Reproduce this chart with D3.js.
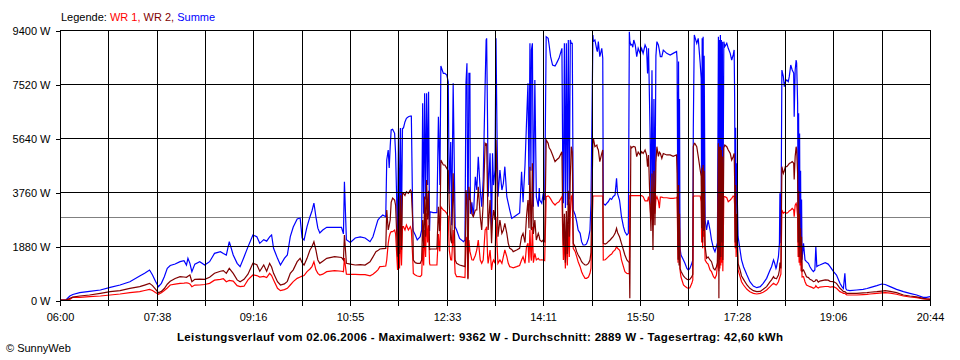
<!DOCTYPE html>
<html><head><meta charset="utf-8">
<script src="https://cdn.jsdelivr.net/npm/d3@7"></script>
<style>
html,body{margin:0;padding:0;background:#fff;}
svg{display:block;background:#fff;}
text{font-family:"Liberation Sans",Arial,sans-serif;}
</style></head><body>
<svg id="chart" width="960" height="360"></svg>
<script>
// time in minutes after 06:00
const minutes = [
0,6,10,13,20,30,41,51,61,71,
81,86,91,94,97,100,103,106,109,112,
117,122,126,128.5,130,132,134,137,142,147,
152,157,163,166,169,172,176,180,183,187,
191,196,200,203,207,210,213,215,217,221,
224,228,231,234,237,241,244,246,248,251,
254,256,258,260,262,264,267,271,279,286,
288,289,291,295,300,305,310,315,318,321,
323,325,328,331,332,333.5,334.5,335.5,336.5,338,
340,341,343,344,345,346,347,348,349,350.5,
352,354,356,357,358.5,359,361,363,366,367.5,
368.5,369.5,370.5,371.5,372.5,373.5,374.5,375.5,376,379,
383,384.5,385.5,386,387,389.5,391,393,394.5,395.5,
397,398,399.5,401.5,403,406,410,411.5,412.5,413.5,
414.5,415.5,416.5,417,418.5,420,422,423.5,425,427,
428.5,430,432,433,433.5,434.5,435,437,438.5,439.5,
440.5,442,443,444,445,447,449,450.5,452,454,
455.5,457,459,460.5,464,467,469,470.5,472.5,474,
475.5,476.5,477.5,478.5,479,480,481,482.5,484,486,
487,487.5,489.5,491,492.5,494,496,497,498.5,500.5,
503,504.5,507,510,511,511.5,512.5,513.5,514.5,515.5,
516.5,517.5,518.5,519.5,520.5,521.5,523.5,525,526.5,528.5,
530,531.5,533.5,535,537,538.5,539.5,541.5,542,543.5,
545.5,546,547,548.5,550.5,551.5,552,554,555.5,557,
559,560.5,562,564,565.5,566.5,568.5,569,570.5,572.5,
574,576,577.5,578.5,579,580,581,582,583,584.5,
586,587.5,589.5,591,592.5,594.5,596,597,598,599.5,
600.5,601.5,602.5,603.5,604.5,605.5,606.5,608,609,610,
611.5,613,616.5,620,623,626.5,627,628,628.5,629,
629.5,630,631,633.5,635,637,638.5,640,642,643,
643.5,644.5,645,647,648.5,650.5,651.5,652,652.5,653,
653.5,654,654.5,655.5,657,658.5,660.5,662,664,665.5,
667,668,669,669.5,670,670.5,671,671.5,672,672.5,
673,673.5,674.5,675.5,677.5,679,681,682.5,684,685,
685.5,686,686.5,687,687.5,689,691,692.5,694.5,698,
701,704.5,708,711.5,714.5,718,721.5,723,725,726,
727.5,728,730,731,731.5,732.5,733.5,735,736,737,
738.5,740,741,742.5,744,745.5,746,747,748,748.5,
749.5,750,750.5,751,751.5,752,752.5,753,753.5,754,
755.5,757,758.5,760.5,762,764,765.5,767,768,769,
770.5,772,777.5,780.5,782.5,786,789,792.5,794.5,796,
797.5,798.5,799.5,802.5,809.5,816,820,823,830,835,
838.5,843.5,850,857,863.5,870.5,877,880.5,884
];
// WR 1 (W)
const wr1 = [
0,0,20,93,93,116,139,174,209,255,
290,330,371,330,260,197,250,330,420,522,
550,580,590,600,590,560,464,520,522,540,
580,690,720,740,637,680,660,500,464,480,
700,870,850,800,820,780,928,850,700,406,
324,360,406,522,640,754,800,830,850,986,
1080,1160,1334,1050,928,870,900,986,1021,1000,
986,1462,900,893,893,880,880,840,900,986,
1050,1160,1170,1183,1393,1973,2200,2321,2378,2378,
2437,2300,1044,2500,1100,2550,1200,2552,2552,2437,
2611,2437,2552,2437,1393,928,870,835,812,870,
1900,1200,2437,1500,3017,2000,2600,1276,1218,1218,
1218,2300,1741,1700,3249,3133,3100,3017,2900,1741,
1400,1393,2437,928,812,812,790,780,2089,2200,
754,2089,1700,1625,1400,1393,1550,1741,2089,1393,
1276,1393,2437,2500,2552,1500,1276,1741,1044,1300,
1393,1276,2900,1973,1276,1393,1276,1508,1741,1508,
1276,1160,1140,1120,1160,1200,1393,1508,1276,1856,
1973,1300,2437,1500,1370,2552,1300,1625,1393,1450,
1400,1393,1400,1393,1369,3597,3620,3600,3520,3400,
3307,3365,3420,3597,2000,1393,2200,1100,2400,1200,
2611,1500,3000,3597,3655,1799,1683,1508,1334,1160,
986,870,754,754,800,928,1100,3620,3620,3620,
3620,3620,3620,3620,3620,3620,1393,1400,1450,1500,
1566,1600,1683,1741,1856,1800,1741,1700,1393,1160,
986,928,920,920,3631,3631,3631,3631,3631,3631,
3631,3631,3631,3631,3600,3450,3450,3450,3600,3300,
2800,3400,2600,3450,3000,3500,3597,3450,3200,3580,
3580,3560,3560,3539,3539,3560,3580,1300,3000,1500,
2500,1044,800,522,480,429,406,429,580,700,
3597,3620,3620,3620,3620,3620,3423,2000,3200,1800,
3133,2200,3000,1393,1300,1250,1044,986,812,754,
870,1200,3597,1000,3500,1100,3400,1200,3597,1300,
3500,1000,3597,3597,3560,3423,3481,3539,3620,3597,
3300,1800,3000,1500,2500,1044,812,637,522,371,
290,232,209,232,267,348,464,520,580,560,
522,522,637,750,800,900,3133,3017,3050,3060,
3017,3060,3100,3133,3191,3133,2900,3300,3365,3307,
2900,1500,2600,1300,2300,1200,2000,1000,1600,800,
812,637,522,490,464,440,406,430,500,450,
420,450,470,470,450,464,406,290,260,232,
230,200,174,174,174,190,197,209,232,250,
255,240,200,139,104,80,35,30,30
];
// WR 2 (W)
const wr2 = [
0,0,58,100,139,174,232,290,324,406,
464,520,580,500,380,255,300,400,550,650,
750,812,800,790,830,870,637,720,730,720,
789,930,1000,1021,928,1102,928,700,637,720,
900,1276,1230,1000,1220,1000,1276,1150,928,637,
522,560,650,928,1050,1334,1450,1300,1218,1450,
1741,1856,2030,1741,1393,1276,1350,1450,1508,1480,
1393,2263,1276,1250,1218,1230,1218,1330,1500,1683,
1720,1775,1790,1799,3133,2437,2600,2785,3400,3550,
3481,3300,1508,3600,1600,3650,1750,3700,3713,3640,
3771,3713,3829,3771,2660,1393,1300,1276,1276,1393,
2785,1800,3600,2200,4178,2800,3800,1741,1775,1775,
1775,3249,2400,2450,4874,4700,4700,4584,4500,3365,
2100,1973,4410,1393,1276,1218,1180,1160,3829,3500,
720,3944,3500,3481,3000,2900,3133,3133,3944,2900,
2437,3365,5454,5400,5454,3500,2437,3481,1973,2800,
3133,2785,5570,4410,2204,2785,2321,2437,2670,2320,
1973,1799,1760,1683,1740,1800,2204,2321,2000,2900,
3481,2500,4642,2500,2437,4758,2300,2785,2089,2321,
2200,2089,2030,2089,2030,5570,5454,5300,5222,5050,
4816,4874,4950,5163,2437,1900,3000,1300,3100,1600,
3800,2200,4292,5337,5163,1973,1856,1683,1566,1450,
1334,1276,1218,1218,1276,1393,1650,5570,5628,5340,
5396,5300,5222,4816,5106,5222,1973,1950,1973,2030,
2089,2150,2204,2321,2496,2350,2204,2150,1973,1741,
1566,1393,1334,1300,60,5337,5300,5337,5350,5320,
4990,5150,5050,5163,5100,5222,5050,4642,5050,3365,
2400,4400,1741,4500,2600,4800,5337,5000,5150,5106,
4932,5100,5050,5050,5000,5050,4410,1400,4000,1200,
3000,1102,1000,835,780,720,700,720,812,900,
5337,5454,5454,5337,5000,4526,4300,2500,4600,2000,
4700,2400,4500,1856,1450,1500,1393,1334,1102,1044,
1160,1300,5454,60,5337,1400,5337,1500,5222,2000,
5000,1393,5300,5396,5337,5222,5106,4874,4990,5106,
4178,2000,4000,1800,3000,1276,1044,835,720,522,
406,324,290,300,371,464,637,700,812,760,
750,740,870,1044,1300,1100,4642,4410,4500,4642,
4642,4700,4750,4780,4816,4758,4200,5000,5337,5222,
4400,2000,3800,1500,3000,1800,2500,1300,2200,1000,
1044,928,812,780,720,690,637,650,700,700,
620,660,700,690,650,637,580,406,350,290,
290,260,232,232,232,250,255,270,290,310,
324,300,255,174,139,110,58,40,25
];
// Summe (W)
const summe = [
0,0,140,190,255,300,348,440,522,637,
835,928,1044,870,650,464,580,812,1102,1200,
1253,1334,1369,1218,1450,1276,986,1250,1334,1218,
1334,1624,1682,1620,1566,2030,1566,1276,1160,1500,
1850,2263,2200,1973,2100,2050,2200,2263,1800,1450,
1218,1450,1567,2204,2541,2820,2855,2158,2089,2552,
2900,3100,3376,2900,2500,2332,2437,2530,2530,2530,
2300,4118,2100,2000,2158,2200,2158,2030,2204,2552,
2785,2866,2960,2900,4874,5222,4600,5337,5918,5941,
5802,5100,2204,5976,2300,5990,2600,5976,5990,6200,
6325,6380,6405,6405,2552,2400,2263,2089,2204,2437,
6847,3000,7195,3500,7195,4000,7253,2400,3074,3040,
3040,6380,5000,4000,8146,7891,7891,7832,7600,3700,
5500,2600,7543,2550,2437,2146,2030,2089,7543,8239,
1973,7890,7890,3000,3400,2900,4292,3829,4990,3829,
3249,4178,7543,9052,9110,6000,3597,5106,2437,5106,
4000,4526,9110,5918,3597,4526,3829,4062,4642,3597,
3365,3133,2843,2870,2960,3030,4468,3400,4700,6150,
7543,4000,8936,4500,8704,8936,3249,7659,3597,3249,
3900,3481,3365,3713,3481,9168,9110,8878,8471,8181,
8146,8239,8413,8762,3829,3365,8936,3200,8936,3300,
9052,3500,9052,8936,8936,3133,2960,2726,2437,2321,
2030,1915,1915,1950,2146,2437,3365,9226,9000,9052,
8700,8645,8994,8471,8762,8413,3365,3300,3365,3420,
3539,3500,3597,3655,4236,3700,3481,3350,2900,2552,
2378,2263,2320,9342,9000,8878,8900,8800,9052,8878,
8471,8762,8587,8762,8587,8878,8762,7890,8762,6000,
3300,8000,2700,7000,3400,8500,8994,8878,8700,8471,
8471,8700,8587,8530,8587,8650,8400,1741,8300,2500,
7000,1800,1566,1393,1276,1102,1044,1102,1276,1393,
6000,9226,9168,8936,9110,8239,7716,3000,9110,2500,
9168,3500,8500,2785,2437,2785,2437,2089,1799,1683,
1856,2000,9168,1800,9052,2000,9226,2200,9052,3500,
8994,2000,8994,8820,8936,8762,8587,8355,8530,8704,
7079,3000,6000,3000,4758,2204,1741,1393,1160,870,
637,487,429,464,580,754,1044,1160,1393,1300,
1102,1150,1508,1973,3713,1973,8007,7775,7427,7600,
7659,7600,7775,8180,8007,7900,6380,8007,8355,8250,
6847,3000,6500,2000,5800,1800,4500,1600,3500,1400,
1973,1393,1334,1276,1160,1044,986,1044,1856,1160,
1200,1218,1300,1250,1160,986,870,580,464,400,
928,400,348,324,348,371,400,429,499,557,
540,464,371,290,232,174,93,93,116
];

const yTicks = [0, 1880, 3760, 5640, 7520, 9400];
const xTickLabels = ["06:00","07:38","09:16","10:55","12:33","14:11","15:50","17:28","19:06","20:44"];
const totalMinutes = 884;   // 06:00 .. 20:44
const average = 2889;
const legendParts = [["Legende: ","#000000"],["WR 1, ","#ff0000"],["WR 2, ","#800000"],["Summe","#0000ff"]];
const title = "Leistungsverlauf vom 02.06.2006 - Maximalwert: 9362 W - Durchschnitt: 2889 W - Tagesertrag: 42,60 kWh";
const copyright = "\u00A9 SunnyWeb";

const svg = d3.select("#chart");
const x = d3.scaleLinear().domain([0, totalMinutes]).range([60, 930]);
const y = d3.scaleLinear().domain([0, 9400]).range([300, 30]);
const gridMinutes = d3.range(19).map(i => i * totalMinutes / 18);
const px = v => Math.round(v) + 0.5;

// average line
svg.append("line")
  .attr("x1", x(0)).attr("x2", x(totalMinutes))
  .attr("y1", px(y(average))).attr("y2", px(y(average)))
  .attr("stroke", "#808080").attr("stroke-width", 1).attr("shape-rendering", "crispEdges");

// data lines
const n = Math.min(minutes.length, wr1.length, wr2.length, summe.length);
const idx = d3.range(n);
function drawSeries(vals, color) {
  const line = d3.line().x(i => x(minutes[i])).y(i => y(vals[i]));
  svg.append("path").datum(idx)
    .attr("d", line)
    .attr("fill", "none")
    .attr("stroke", color)
    .attr("stroke-width", 1.2)
    .attr("stroke-linejoin", "miter");
}
drawSeries(summe, "#0000ff");
drawSeries(wr1, "#ff0000");
drawSeries(wr2, "#800000");

// grid
const grid = svg.append("g").attr("shape-rendering", "crispEdges");
grid.selectAll("line.h").data(yTicks).join("line")
  .attr("x1", px(x(0)) - 0.5).attr("x2", px(x(totalMinutes)) + 0.5)
  .attr("y1", d => px(y(d))).attr("y2", d => px(y(d)))
  .attr("stroke", "#000");
grid.selectAll("line.v").data(gridMinutes).join("line")
  .attr("x1", d => px(x(d))).attr("x2", d => px(x(d)))
  .attr("y1", px(y(9400))).attr("y2", px(y(0)))
  .attr("stroke", "#000");

// axes
const yAxis = d3.axisLeft(y).tickValues(yTicks).tickSize(5).tickPadding(5)
  .tickFormat(d => d + " W");
const gy = svg.append("g").attr("transform", "translate(60.5,0.5)").call(yAxis);
gy.select(".domain").remove();
gy.selectAll("line").attr("shape-rendering", "crispEdges");
gy.selectAll("text").attr("font-size", 11).attr("font-family", "Liberation Sans, Arial, sans-serif").attr("fill", "#000");

const xAxis = d3.axisBottom(x).tickValues(gridMinutes).tickSize(5).tickPadding(8)
  .tickFormat((d, i) => i % 2 === 0 ? xTickLabels[i / 2] : "");
const gx = svg.append("g").attr("transform", "translate(0.5,300.5)").call(xAxis);
gx.select(".domain").remove();
gx.selectAll("line").attr("shape-rendering", "crispEdges");
gx.selectAll(".tick").attr("transform", d => `translate(${Math.round(x(d))},0)`);
gx.selectAll("text").attr("font-size", 11).attr("font-family", "Liberation Sans, Arial, sans-serif").attr("fill", "#000");

// legend
const leg = svg.append("text").attr("x", 61).attr("y", 21).attr("font-size", 11);
leg.selectAll("tspan").data(legendParts).join("tspan")
  .attr("fill", d => d[1]).text(d => d[0]).attr("xml:space", "preserve");
leg.style("white-space", "pre");

// title
svg.append("text").attr("x", 480).attr("y", 341).attr("text-anchor", "middle")
  .attr("font-size", 11.5).attr("font-weight", "bold").attr("fill", "#000")
  .attr("textLength", 606).attr("lengthAdjust", "spacing")
  .text(title);

// copyright
svg.append("text").attr("x", 6).attr("y", 352).attr("font-size", 11).attr("fill", "#000")
  .text(copyright);
</script>
</body></html>
